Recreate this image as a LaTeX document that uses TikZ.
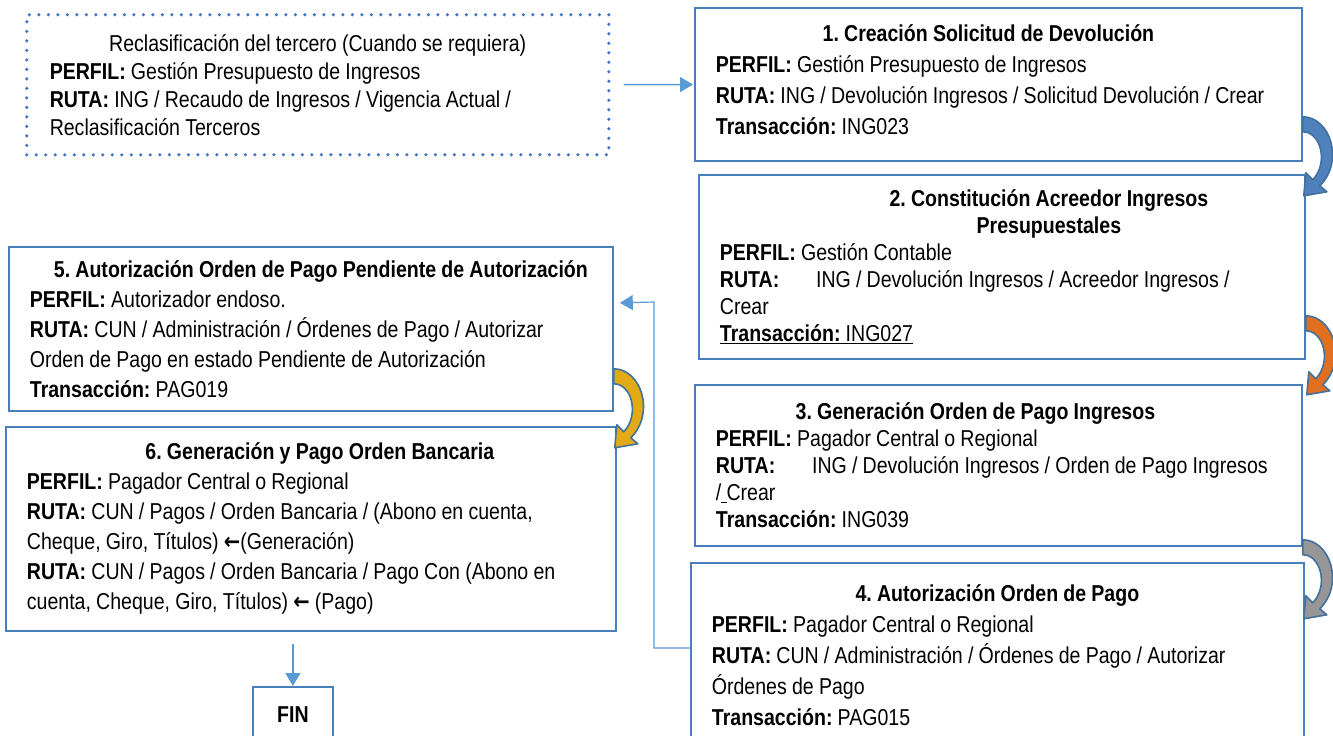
\documentclass[tikz,border=0pt]{standalone}
\usepackage{fontspec}
\setmainfont{Liberation Sans}[FakeStretch=0.85]
\newfontfamily\arrowfont{DejaVu Sans}[FakeStretch=0.85]
\usetikzlibrary{arrows.meta, positioning}
\definecolor{boxblue}{RGB}{74,126,187}
\definecolor{lineblue}{RGB}{91,155,213}
\definecolor{dotblue}{RGB}{68,114,196}
\definecolor{arrowedge}{RGB}{65,113,156}
\definecolor{arrowblue}{RGB}{79,129,189}
\definecolor{arroworange}{RGB}{224,112,32}
\definecolor{arrowgray}{RGB}{150,150,150}
\definecolor{arrowgold}{RGB}{226,170,20}
\newcommand{\perfil}{\textbf{PERFIL:}}
\newcommand{\ruta}{\textbf{RUTA:}}
\newcommand{\trans}{\textbf{Transacción:}}
\newcommand{\larrow}{{\arrowfont\bfseries ←}}
\frenchspacing
\hyphenpenalty=10000

\begin{document}
\begin{tikzpicture}[x=1pt, y=-1pt,
    box/.style={draw=boxblue, line width=1.8pt, anchor=north west, align=left,
      inner xsep=21pt, inner ysep=0pt, font=\fontsize{23}{30}\selectfont,
      execute at begin node={\spaceskip=5.2pt plus 2pt minus 1pt\xspaceskip=5.2pt plus 2pt}},
    dotbox/.style={box, draw=dotblue, line width=3.5pt, line cap=round,
      dash pattern=on 0pt off 9.5pt},
    conn/.style={draw=lineblue, line width=1.5pt, -{Triangle[width=15pt,length=13pt]}},
    pics/bendarrow/.style={code={
      \filldraw[fill=#1, draw=arrowedge, line width=1.6pt, line join=round]
        (0,-8) .. controls (27,-8) and (42,36) .. (17,61) -- (24,67)
        -- (1,71) -- (3,48) -- (10,55)
        .. controls (26,38) and (18,7) .. (0,7) -- cycle;
    }}]
    \useasboundingbox (0,0) rectangle (1333,736);

    % Optional step
    \node[dotbox, minimum width=582pt, minimum height=140pt, text width=536pt,
      font=\fontsize{23}{28}\selectfont] (b0) at (25,13) {%
      \centerline{Reclasificación del tercero (Cuando se requiera)}
      \perfil{} Gestión Presupuesto de Ingresos\\
      \ruta{} ING / Recaudo de Ingresos / Vigencia Actual /\\
      Reclasificación Terceros};

    % Right column
    \node[box, minimum width=607pt, minimum height=153pt, text width=565pt,
      font=\fontsize{23}{31}\selectfont] (b1) at (694,7) {%
      \centerline{\hspace*{-20pt}\textbf{1. Creación Solicitud de Devolución}}
      \perfil{} Gestión Presupuesto de Ingresos\\
      \ruta{} ING / Devolución Ingresos / Solicitud Devolución / Crear\\
      \trans{} ING023\par\kern10pt\nointerlineskip\hbox{}};

    \node[box, minimum width=604pt, minimum height=184pt, text width=564pt,
      font=\fontsize{23}{27}\selectfont] (b2) at (698,174) {%
      \centerline{\hspace*{94pt}\textbf{2. Constitución Acreedor Ingresos}}
      \centerline{\hspace*{94pt}\textbf{Presupuestales}}
      \perfil{} Gestión Contable\\
      \ruta{}\hspace{1.6em}ING / Devolución Ingresos / Acreedor Ingresos /\\
      Crear\\
      \underline{\trans{} ING027}};

    \node[box, minimum width=607pt, minimum height=161pt, text width=565pt,
      font=\fontsize{23}{27}\selectfont] (b3) at (694,384) {%
      \centerline{\hspace*{-46pt}\textbf{3. Generación Orden de Pago Ingresos}}
      \perfil{} Pagador Central o Regional\\
      \ruta{}\hspace{1.6em}ING / Devolución Ingresos / Orden de Pago Ingresos\\
      /\underline{\ }Crear\\
      \trans{} ING039};

    \node[box, minimum width=613pt, minimum height=184pt, text width=571pt,
      font=\fontsize{23}{31}\selectfont] (b4) at (690,562) {%
      \centerline{\textbf{4. Autorización Orden de Pago}}
      \perfil{} Pagador Central o Regional\\
      \ruta{} CUN / Administración / Órdenes de Pago / Autorizar\\
      Órdenes de Pago\\
      \trans{} PAG015};

    % Left column
    \node[box, minimum width=604pt, minimum height=164pt, text width=562pt] (b5) at (8,246) {%
      \centerline{\hspace*{20pt}\textbf{5. Autorización Orden de Pago Pendiente de Autorización}}
      \perfil{} Autorizador endoso.\\
      \ruta{} CUN / Administración / Órdenes de Pago / Autorizar\\
      Orden de Pago en estado Pendiente de Autorización\\
      \trans{} PAG019};

    \node[box, minimum width=610pt, minimum height=204pt, text width=568pt] (b6) at (5,426) {%
      \centerline{\hspace*{18pt}\textbf{6. Generación y Pago Orden Bancaria}}
      \perfil{} Pagador Central o Regional\\
      \ruta{} CUN / Pagos / Orden Bancaria / (Abono en cuenta,\\
      Cheque, Giro, Títulos) \larrow(Generación)\\
      \ruta{} CUN / Pagos / Orden Bancaria / Pago Con (Abono en\\
      cuenta, Cheque, Giro, Títulos) \larrow{} (Pago)};

    \node[box, minimum width=80pt, minimum height=56pt, align=center, inner xsep=0pt] (fin) at (252,686) {\textbf{FIN}};

    % Connectors
    \coordinate (bend) at (654,302);
    \draw[conn, shorten <=13pt, shorten >=1pt] (b0) -- (b1);
    \draw[conn, line width=1.2pt] ([yshift=7pt]b4.west) -| (bend) -- ([xshift=6pt,yshift=26pt]b5.east);
    \draw[conn, line width=1.2pt, shorten <=12pt] (fin.north |- b6.south) -- (fin.north);

    % Curved arrows
    \path (b1.south east) ++(0,-37) pic {bendarrow=arrowblue};
    \path (b2.south east) ++(0,-36) pic {bendarrow=arroworange};
    \path (b3.south east) ++(0,1) pic {bendarrow=arrowgray};
    \path (b5.south east) ++(0,-35) pic {bendarrow=arrowgold};
\end{tikzpicture}
\end{document}
